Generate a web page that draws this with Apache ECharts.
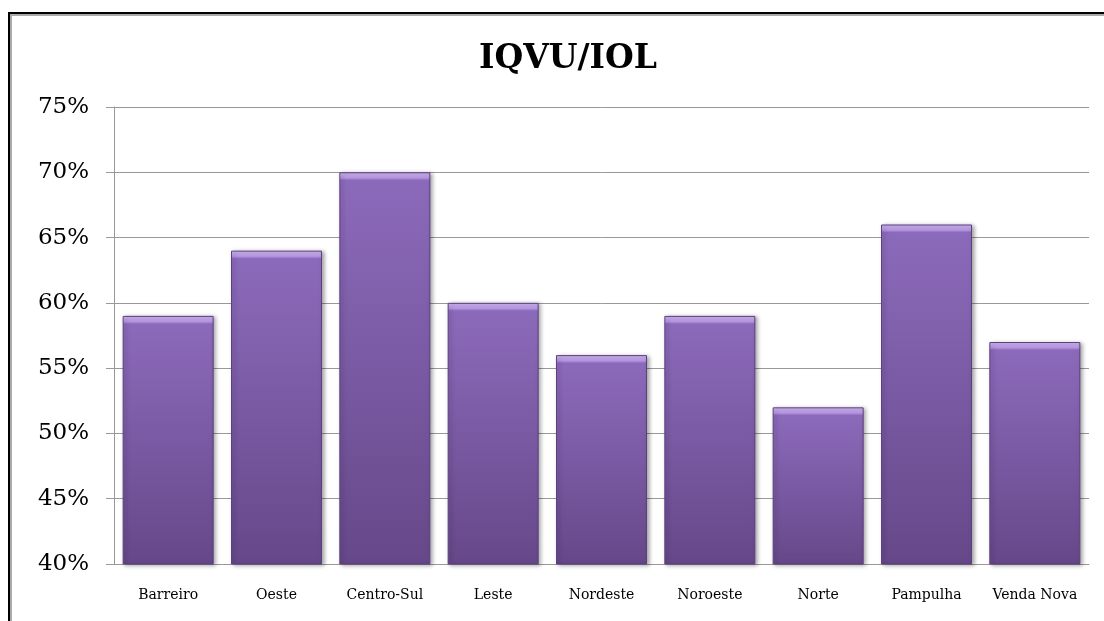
<!DOCTYPE html>
<html>
<head>
<meta charset="utf-8">
<script src="https://cdn.jsdelivr.net/npm/echarts@6/dist/echarts.min.js"></script>
<style>
html,body{margin:0;padding:0;background:#fff;}
#chart{width:1104px;height:621px;}
</style>
</head>
<body>
<div id="chart"></div>
<script>
const titleText = 'IQVU/IOL';
const categories = ['Barreiro','Oeste','Centro-Sul','Leste','Nordeste','Noroeste','Norte','Pampulha','Venda Nova'];
const values = [59, 64, 70, 60, 56, 59, 52, 66, 57];
const yMin = 40, yMax = 75, yStep = 5;

const gridTop = 107, gridBottom = 57;
const plotH = 621 - gridTop - gridBottom;

function barStyle(v) {
  const h = (v - yMin) / (yMax - yMin) * plotH;
  const f = Math.min(0.2, 8 / h);
  return {
    color: {
      type: 'linear', x: 0, y: 0, x2: 0, y2: 1,
      colorStops: [
        {offset: 0, color: '#d2b9f6'},
        {offset: f * 0.7, color: '#b697e2'},
        {offset: f, color: '#8c6abb'},
        {offset: 1, color: '#664889'}
      ]
    },
    borderColor: '#5c4180',
    borderWidth: 1,
    shadowColor: 'rgba(0,0,0,0.35)',
    shadowBlur: 4,
    shadowOffsetX: 2,
    shadowOffsetY: 1
  };
}

const chart = echarts.init(document.getElementById('chart'));
chart.setOption({
  animation: false,
  backgroundColor: '#fff',
  title: {
    text: titleText,
    left: 474,
    top: 38,
    textStyle: {fontFamily: 'DejaVu Serif', fontWeight: 'bold', fontSize: 33, color: '#000'}
  },
  graphic: [
    {type: 'rect', shape: {x: 11, y: 15, width: 1200, height: 700}, style: {fill: 'none', stroke: '#aaa', lineWidth: 2}, silent: true},
    {type: 'rect', shape: {x: 9, y: 13, width: 1200, height: 700}, style: {fill: 'none', stroke: '#000', lineWidth: 2}, silent: true}
  ],
  grid: {left: 114, right: 15, top: gridTop, bottom: gridBottom},
  xAxis: {
    type: 'category',
    data: categories,
    axisLine: {show: true, lineStyle: {color: '#999', width: 1}},
    axisTick: {show: false},
    axisLabel: {fontFamily: 'DejaVu Serif', fontSize: 14, color: '#000', margin: 24, interval: 0}
  },
  yAxis: {
    type: 'value',
    min: yMin, max: yMax, interval: yStep,
    axisLine: {show: true, lineStyle: {color: '#999', width: 1}},
    axisTick: {show: true, inside: false, length: 8, lineStyle: {color: '#999'}},
    splitLine: {show: true, lineStyle: {color: '#999', width: 1}},
    axisLabel: {fontFamily: 'DejaVu Serif', fontSize: 23, color: '#000', margin: 25, formatter: v => v + '%'}
  },
  series: [{
    type: 'bar',
    data: values.map(v => ({value: v, itemStyle: barStyle(v)})),
    barCategoryGap: '16%'
  }]
});
</script>
</body>
</html>
